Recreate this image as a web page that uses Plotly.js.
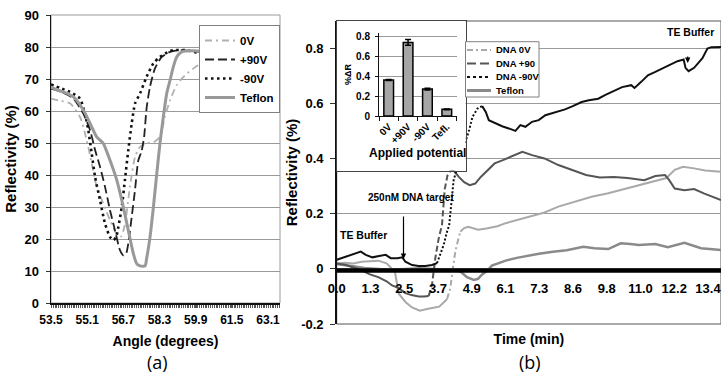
<!DOCTYPE html>
<html><head><meta charset="utf-8">
<script src="https://cdn.plot.ly/plotly-3.0.1.min.js"></script>
<style>html,body{margin:0;padding:0;background:#fff}#chart{width:721px;height:374px}</style>
</head><body><div id="chart"></div>
<script>
// ---------- Panel (a): reflectivity vs angle ----------
const angle0V   = [53.5,53.9,54.34,54.78,55.08,55.30,55.52,55.81,56.11,56.41,56.60,56.77,56.99,57.22,57.44,57.73,58.03,58.32,58.54,58.77,59.06,59.43,59.80,60.17,60.8,61.86,62.8,63.63];
const refl0V    = [63.9,63.2,62.4,58.2,50.9,43.6,36.3,31.1,25.9,21.5,20.8,24.5,36.3,45.7,48.8,49.9,50.2,51.9,58.2,63.4,68.1,71.2,73.3,74.9,75.2,75.0,75.0,75.3];
const anglePos  = [53.5,54.0,54.49,54.93,55.23,55.45,55.67,55.89,56.11,56.33,56.55,56.70,56.82,56.92,57.07,57.22,57.36,57.51,57.62,57.73,57.88,58.10,58.40,58.77,59.21,60.09,61.0,62.0,63.4];
const reflPos   = [67.0,65.8,63.9,59.2,54.0,47.8,42.5,36.3,29.0,22.7,16.5,14.9,15.4,18.6,26.9,35.5,44.5,47.5,52.0,61.0,67.6,73.3,76.9,78.5,79.0,78.5,78.3,78.2,78.2];
const angleNeg  = [53.5,53.9,54.34,54.78,55.0,55.15,55.30,55.45,55.67,55.89,56.11,56.26,56.38,56.48,56.63,56.77,56.92,57.07,57.22,57.44,57.73,58.03,58.32,58.69,58.91,59.5,60.09,61.0,62.0,63.4];
const reflNeg   = [68.3,67.2,66.0,63.9,59.2,54.0,46.7,39.4,32.1,24.8,20.6,19.6,20.6,23.8,30.0,38.4,47.8,56.1,62.4,65.5,70.7,74.9,76.9,78.5,79.0,79.0,78.0,78.0,78.0,78.0];
const angleTef  = [53.5,53.8,54.1,54.49,54.93,55.23,55.52,55.81,56.11,56.41,56.70,56.92,57.14,57.29,57.44,57.66,57.73,57.88,58.03,58.18,58.32,58.47,58.62,58.77,58.91,59.06,59.28,59.8,60.5,61.5,62.5,63.4];
const reflTef   = [67.5,66.5,65.8,64.4,60.3,56.1,51.9,49.9,44.6,38.4,30.0,22.7,15.5,12.3,11.6,11.6,13.9,20.6,30.0,40.5,49.9,58.2,65.5,69.7,73.8,76.9,78.5,78.8,78.5,78.5,78.3,78.3];

// ---------- Panel (b): reflectivity change vs time ----------
const t0V  = [0,0.3,0.6,0.9,1.2,1.5,1.8,2.1,2.24,2.48,2.72,3.0,3.3,3.5,3.7,3.98,4.1,4.16,4.22,4.28,4.37,4.46,4.6,4.75,4.9,5.1,5.4,5.8,6.1,6.6,7.1,7.5,8.0,8.6,9.2,9.8,10.4,11.0,11.6,11.9,12.2,12.5,12.9,13.3,13.87];
const r0V  = [0.02,0.022,0.02,0.026,0.028,0.03,0.02,-0.01,-0.09,-0.12,-0.14,-0.152,-0.145,-0.142,-0.137,-0.11,-0.07,-0.022,0.02,0.063,0.1,0.135,0.148,0.153,0.148,0.142,0.147,0.155,0.166,0.18,0.195,0.205,0.226,0.244,0.262,0.275,0.29,0.305,0.322,0.33,0.36,0.371,0.365,0.357,0.353];
const tPos = [0,0.3,0.6,0.9,1.2,1.5,1.8,2.0,2.24,2.48,2.7,2.96,3.15,3.32,3.44,3.56,3.68,3.8,3.9,4.0,4.1,4.2,4.4,4.6,4.8,5.0,5.2,5.45,5.7,6.0,6.4,6.7,7.05,7.5,8.0,8.5,9.0,9.5,10.0,10.5,11.1,11.5,11.85,12.0,12.2,12.55,12.9,13.25,13.87];
const rPos = [0.02,0.015,0.005,-0.005,-0.02,-0.03,-0.045,-0.06,-0.07,-0.088,-0.095,-0.1,-0.1,-0.098,-0.058,0.04,0.11,0.16,0.29,0.34,0.355,0.36,0.335,0.315,0.304,0.31,0.334,0.36,0.383,0.395,0.413,0.425,0.413,0.401,0.377,0.359,0.341,0.332,0.334,0.330,0.322,0.337,0.341,0.322,0.292,0.286,0.29,0.274,0.25];
const tNeg = [0,0.33,0.69,0.87,1.05,1.29,1.53,1.77,1.95,2.19,2.37,2.48,2.72,2.96,3.2,3.44,3.62,3.68,3.86,3.98,4.06,4.1,4.16,4.22,4.3,4.62,4.78,4.9,5.08,5.25,5.38,5.49,5.73,5.97,6.21,6.45,6.63,6.81,7.05,7.29,7.53,7.76,8.0,8.24,8.5,8.84,9.1,9.44,9.7,10.04,10.3,10.63,10.75,11.0,11.23,11.5,11.83,12.1,12.3,12.52,12.59,12.7,12.9,13.2,13.38,13.52,13.87];
const rNeg = [0.033,0.045,0.059,0.063,0.051,0.042,0.047,0.051,0.039,0.039,0.042,0.026,0.014,0.011,0.011,0.014,0.021,0.039,0.087,0.135,0.159,0.2,0.274,0.322,0.35,0.45,0.504,0.552,0.582,0.591,0.57,0.54,0.528,0.518,0.51,0.501,0.522,0.516,0.534,0.54,0.558,0.564,0.57,0.579,0.59,0.606,0.612,0.618,0.632,0.649,0.66,0.667,0.657,0.68,0.703,0.715,0.732,0.745,0.754,0.76,0.73,0.718,0.73,0.765,0.80,0.805,0.806];
const tTef = [0,0.3,0.6,1.0,1.5,2.0,2.5,3.0,3.5,4.0,4.3,4.5,4.7,4.95,5.1,5.25,5.45,5.6,5.85,6.1,6.5,6.9,7.3,7.8,8.3,8.9,9.3,9.8,10.25,10.6,10.9,11.5,11.95,12.55,13.15,13.87];
const rTef = [0.018,0.015,0.01,0.003,0.0,-0.004,0.0,0.002,0.0,-0.004,-0.004,-0.012,-0.03,-0.04,-0.036,-0.02,-0.005,0.012,0.022,0.03,0.04,0.048,0.055,0.062,0.068,0.08,0.075,0.072,0.093,0.09,0.087,0.09,0.079,0.095,0.075,0.069];
const timeTickText = ['0.0','1.3','2.5','3.7','4.9','6.1','7.3','8.6','9.8','11.0','12.2','13.4'];

// ---------- Inset: bar chart ----------
const potentials = ['0V','+90V','-90V','Tefl.'];
const deltaR     = [0.365,0.745,0.272,0.068];
const deltaRErr  = [0.005,0.03,0.008,0.004];

// ---------- helpers ----------
const W = 721, H = 374;
const PX = x => x / W, PY = y => 1 - y / H;
const FONT = 'Liberation Sans, Arial, sans-serif';
const bold = (s, c) => ({family: FONT, size: s, color: c || '#000', weight: 'bold'});
function slice(t, v, a, b) {
  const x = [], y = [];
  for (let i = 0; i < t.length; i++) if (t[i] >= a && t[i] <= b) { x.push(t[i]); y.push(v[i]); }
  return {x, y};
}
const traces = [];

// panel (a) traces
traces.push({x: angle0V, y: refl0V, name: '0V', mode: 'lines', xaxis: 'x', yaxis: 'y', legendrank: 1,
  line: {color: '#b0b0b0', width: 1.8, dash: '7px,4px,2px,4px', shape: 'spline', smoothing: 0.6}});
traces.push({x: anglePos, y: reflPos, name: '+90V', mode: 'lines', xaxis: 'x', yaxis: 'y', legendrank: 2,
  line: {color: '#222', width: 1.8, dash: '9px,4px', shape: 'spline', smoothing: 0.6}});
traces.push({x: angleNeg, y: reflNeg, name: '-90V', mode: 'lines', xaxis: 'x', yaxis: 'y', legendrank: 3,
  line: {color: '#111', width: 2.6, dash: '2.5px,3.5px', shape: 'spline', smoothing: 0.6}});
traces.push({x: angleTef, y: reflTef, name: 'Teflon', mode: 'lines', xaxis: 'x', yaxis: 'y', legendrank: 4,
  line: {color: '#999', width: 3, shape: 'spline', smoothing: 0.6}});

// panel (b) traces: solid where flat, styled dash on the fast rise
function series(t, v, a, b, color, width, dash) {
  const parts = [[-1, a, 'solid'], [a, b, dash], [b, 99, 'solid']];
  parts.forEach(p => {
    const s = slice(t, v, p[0], p[1]);
    traces.push({x: s.x, y: s.y, mode: 'lines', xaxis: 'x2', yaxis: 'y2', showlegend: false, hoverinfo: 'skip',
      line: {color: color, width: width, dash: p[2]}});
  });
}
series(tTef, rTef, 99, 99, '#8a8a8a', 2.5, 'solid');
series(t0V, r0V, 3.98, 4.46, '#a9a9a9', 2, '6px,3px,2px,3px');
series(tPos, rPos, 3.32, 4.1, '#555555', 2, '6px,3px');
series(tNeg, rNeg, 3.62, 5.25, '#111111', 2, '2px,2px');

// inset: empty frame subplot + bar subplot
traces.push({x: [], y: [], xaxis: 'x3', yaxis: 'y3', mode: 'lines', showlegend: false, hoverinfo: 'skip'});
traces.push({type: 'bar', x: potentials, y: deltaR, xaxis: 'x4', yaxis: 'y4', showlegend: false,
  marker: {color: '#a6a6a6', line: {color: '#000', width: 1.5}},
  error_y: {type: 'data', array: deltaRErr, visible: true, color: '#000', thickness: 1.5, width: 3}});

const tickStep = 13.4 / (timeTickText.length - 1);
const timeTickVals = timeTickText.map((_, i) => i * tickStep);
const tMax = 13.87;

const txt = (x, y, text, font, xa) => ({xref: 'paper', yref: 'paper', x: PX(x), y: PY(y), xanchor: xa || 'center',
  yanchor: 'middle', text: text, showarrow: false, font: font});
const arrow = (x, y, ay) => ({xref: 'paper', yref: 'paper', x: PX(x), y: PY(y), ax: 0, ay: ay, text: ' ',
  xanchor: 'center', yanchor: 'middle', showarrow: true, arrowhead: 2, arrowsize: 0.9, arrowwidth: 1.2, arrowcolor: '#000'});
const legLine = (y, color, width, dash) => ({type: 'line', xref: 'paper', yref: 'paper', x0: PX(467), x1: PX(491),
  y0: PY(y), y1: PY(y), line: {color: color, width: width, dash: dash}, layer: 'above'});

const layout = {
  width: W, height: H, margin: {l: 0, r: 0, t: 0, b: 0},
  paper_bgcolor: '#fff', plot_bgcolor: '#fff', font: {family: FONT, color: '#000'},
  bargap: 0.5,
  xaxis: {domain: [PX(51), PX(280)], range: [53.5, 63.63], anchor: 'y', tickmode: 'linear', tick0: 53.5, dtick: 1.6,
    tickformat: '.1f', ticks: 'outside', ticklen: 3, tickcolor: '#555', showline: true, linecolor: '#111', linewidth: 1.5,
    showgrid: false, zeroline: false, tickfont: bold(12), ticklabelstandoff: 2, ticklabeloverflow: 'allow',
    minor: {ticks: 'outside', ticklen: 3, dtick: 0.08, tickcolor: '#555', tickwidth: 1, showgrid: false},
    title: {text: 'Angle (degrees)', font: bold(14), standoff: 10}},
  yaxis: {domain: [PY(303), PY(15)], range: [0, 90], anchor: 'x', dtick: 10, ticks: 'outside', ticklen: 4, tickcolor: '#333',
    showline: true, linecolor: '#111', linewidth: 1.5, showgrid: true, gridcolor: '#9a9a9a', zeroline: false,
    tickfont: bold(13), ticklabelstandoff: 4, title: {text: 'Reflectivity (%)', font: bold(15), standoff: 4}},
  xaxis2: {domain: [PX(336.7), 1], range: [0, tMax], anchor: 'free', position: 0.28099, tickmode: 'array',
    tickvals: timeTickVals, ticktext: timeTickText, ticks: '', showline: false, showgrid: false, zeroline: false,
    tickfont: bold(13), ticklabelstandoff: 10, ticklabeloverflow: 'allow',
    title: {text: 'Time (min)', font: bold(14), standoff: 39}},
  yaxis2: {domain: [PY(324), PY(21)], range: [-0.2, 0.9], anchor: 'x2', tickmode: 'array',
    tickvals: [-0.2, 0, 0.2, 0.4, 0.6, 0.8], ticktext: ['-0.2', '0', '0.2', '0.4', '0.6', '0.8'],
    ticks: 'outside', ticklen: 5, tickcolor: '#333', showline: true, linecolor: '#111', linewidth: 1.5,
    showgrid: true, gridcolor: '#9a9a9a', zeroline: false, tickfont: bold(13), ticklabelstandoff: 4,
    title: {text: 'Reflectivity (%)', font: bold(15), standoff: 0}},
  xaxis3: {domain: [PX(337), PX(465.5)], range: [0, 1], anchor: 'y3', showline: true, mirror: true, linecolor: '#444',
    linewidth: 1, showgrid: false, zeroline: false, showticklabels: false, ticks: ''},
  yaxis3: {domain: [PY(170.5), PY(21)], range: [0, 1], anchor: 'x3', showline: true, mirror: true, linecolor: '#444',
    linewidth: 1, showgrid: false, zeroline: false, showticklabels: false, ticks: ''},
  xaxis4: {domain: [PX(379), PX(456.5)], anchor: 'y4', type: 'category', showline: true, linecolor: '#111', linewidth: 1,
    ticks: 'outside', tickson: 'boundaries', ticklen: 4, tickcolor: '#111', tickangle: -45, tickfont: bold(10),
    showgrid: false, zeroline: false, title: {text: 'Applied potential', font: bold(12), standoff: 3}},
  yaxis4: {domain: [PY(116), PY(33)], range: [0, 0.84], anchor: 'x4', tickvals: [0, 0.2, 0.4, 0.6, 0.8],
    ticktext: ['0', '0.2', '0.4', '0.6', '0.8'], ticks: 'outside', ticklen: 3, tickcolor: '#111', showline: true,
    linecolor: '#111', linewidth: 1, showgrid: true, gridcolor: '#9a9a9a', zeroline: false, tickfont: bold(10),
    ticklabelstandoff: 3, title: {text: '%ΔR', font: bold(9), standoff: 2}},
  legend: {x: PX(199), y: PY(25), xanchor: 'left', yanchor: 'top', bgcolor: '#fff', bordercolor: '#808080',
    borderwidth: 1, font: bold(11.5), itemwidth: 30, tracegroupgap: 0},
  shapes: [
    {type: 'rect', xref: 'x domain', yref: 'y domain', x0: 0, x1: 1, y0: 0, y1: 1, line: {color: '#9a9a9a', width: 1}, layer: 'below'},
    {type: 'rect', xref: 'x2 domain', yref: 'y2 domain', x0: 0, x1: 1, y0: 0, y1: 1, line: {color: '#555', width: 1}, layer: 'below'},
    {type: 'rect', xref: 'x2', yref: 'y2', x0: 0, x1: tMax, y0: 0.002, y1: -0.014, fillcolor: '#000', line: {width: 0}, layer: 'above'},
    {type: 'rect', xref: 'paper', yref: 'paper', x0: PX(465.5), x1: PX(539), y0: PY(97), y1: PY(41.7), fillcolor: '#fff', line: {color: '#808080', width: 1}, layer: 'above'},
    legLine(50, '#a9a9a9', 2, '6px,3px,2px,3px'),
    legLine(63.5, '#555', 2, '9px,4px'),
    legLine(77, '#111', 2, '3px,3px'),
    legLine(90.5, '#8a8a8a', 3, 'solid')
  ],
  annotations: [
    txt(494, 50, 'DNA 0V', bold(9.5), 'left'),
    txt(494, 63.5, 'DNA +90', bold(9.5), 'left'),
    txt(494, 77, 'DNA -90V', bold(9.5), 'left'),
    txt(494, 90.5, 'Teflon', bold(9.5), 'left'),
    txt(690, 32, 'TE Buffer', bold(10.5)),
    arrow(687.7, 63, -15),
    txt(363.5, 235, 'TE Buffer', bold(10.5)),
    txt(411, 197, '250nM DNA target', bold(10)),
    arrow(403.5, 259, -51),
    txt(157, 362, '(a)', {family: 'Open Sans, sans-serif', size: 18, color: '#000'}),
    txt(530, 362, '(b)', {family: 'Open Sans, sans-serif', size: 18, color: '#000'})
  ]
};
Plotly.newPlot('chart', traces, layout, {staticPlot: true, displayModeBar: false});
</script></body></html>
